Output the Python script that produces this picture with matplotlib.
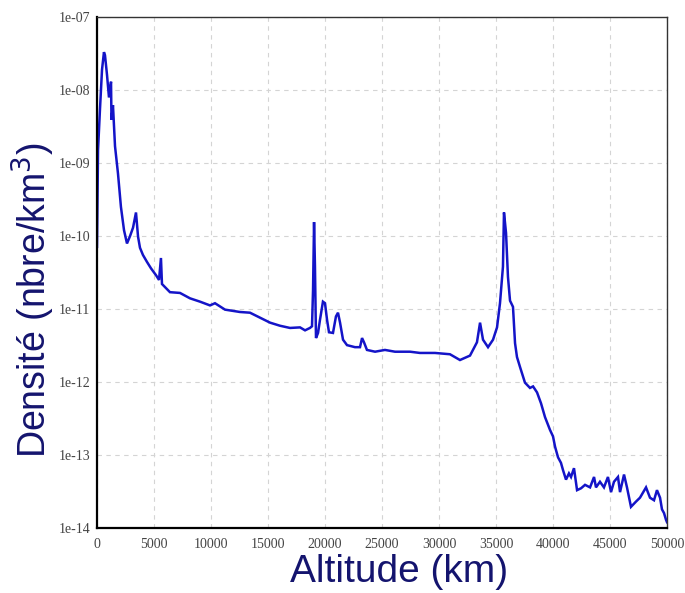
import matplotlib
matplotlib.use("Agg")
import matplotlib.pyplot as plt
from matplotlib.ticker import FixedLocator, FixedFormatter

# Data (altitude in km, density in nbre/km^3)
altitude = [0, 90, 260, 440, 610, 700, 880, 1050, 1230, 1270, 1400, 1490, 1580,
            1840, 2100, 2370, 2630, 2900, 3160, 3420, 3600, 3770, 4030, 4390,
            4740, 5180, 5440, 5610, 5700, 6400, 7280, 8160, 9040, 9910, 10350,
            11230, 12540, 13420, 14300, 15180, 16050, 16930, 17810, 18250, 18680,
            18860, 18950, 19040, 19120, 19210, 19390, 19560, 19820, 20000, 20180,
            20350, 20700, 20960, 21140, 21320, 21580, 21930, 22630, 23070, 23250,
            23420, 23680, 24390, 25260, 26140, 27460, 28330, 29650, 30960, 31840,
            32720, 33330, 33600, 33860, 34300, 34740, 35090, 35350, 35610, 35700,
            35880, 36050, 36230, 36490, 36670, 36840, 37110, 37540, 37980, 38250,
            38600, 38950, 39300, 39740, 40000, 40180, 40440, 40700, 40880, 41140,
            41400, 41580, 41840, 42110, 42460, 42810, 43250, 43600, 43770, 44120,
            44470, 44820, 45090, 45350, 45700, 45880, 46230, 46490, 46840, 47280,
            47630, 48160, 48510, 48860, 49120, 49390, 49560, 49740, 49910, 50000]
density = [7.1e-11, 1.5e-9, 5.4e-9, 1.9e-8, 3.3e-8, 3.0e-8, 1.6e-8, 7.9e-9, 1.3e-8,
           3.9e-9, 6.2e-9, 3.3e-9, 1.7e-9, 7.2e-10, 2.5e-10, 1.2e-10, 7.9e-11,
           1.0e-10, 1.3e-10, 2.1e-10, 9.8e-11, 6.9e-11, 5.5e-11, 4.4e-11, 3.6e-11,
           2.9e-11, 2.5e-11, 5.0e-11, 2.2e-11, 1.7e-11, 1.66e-11, 1.4e-11, 1.26e-11,
           1.12e-11, 1.2e-11, 9.8e-12, 9.1e-12, 8.9e-12, 7.6e-12, 6.5e-12, 5.9e-12,
           5.5e-12, 5.6e-12, 5.1e-12, 5.5e-12, 5.8e-12, 1.8e-11, 1.55e-10, 3.8e-11,
           4.0e-12, 4.7e-12, 7.1e-12, 1.26e-11, 1.2e-11, 7.1e-12, 4.8e-12, 4.7e-12,
           7.9e-12, 8.9e-12, 6.5e-12, 3.8e-12, 3.2e-12, 3.0e-12, 3.0e-12, 4.0e-12,
           3.5e-12, 2.75e-12, 2.6e-12, 2.75e-12, 2.6e-12, 2.6e-12, 2.5e-12, 2.5e-12,
           2.4e-12, 2.0e-12, 2.3e-12, 3.5e-12, 6.5e-12, 3.8e-12, 3.0e-12, 3.8e-12,
           5.6e-12, 1.2e-11, 3.8e-11, 2.1e-10, 1.1e-10, 2.75e-11, 1.3e-11, 1.07e-11,
           3.4e-12, 2.2e-12, 1.6e-12, 9.8e-13, 8.3e-13, 8.7e-13, 7.2e-13, 5.1e-13,
           3.3e-13, 2.2e-13, 1.8e-13, 1.3e-13, 9.3e-14, 7.8e-14, 6.2e-14, 4.6e-14,
           5.6e-14, 5.0e-14, 6.6e-14, 3.3e-14, 3.5e-14, 3.9e-14, 3.6e-14, 5.0e-14,
           3.6e-14, 4.3e-14, 3.6e-14, 5.0e-14, 3.1e-14, 4.3e-14, 5.0e-14, 3.1e-14,
           5.4e-14, 3.6e-14, 1.95e-14, 2.3e-14, 2.6e-14, 3.6e-14, 2.6e-14, 2.4e-14,
           3.3e-14, 2.6e-14, 1.8e-14, 1.6e-14, 1.3e-14, 1.2e-14]

x_ticks = [0, 5000, 10000, 15000, 20000, 25000, 30000, 35000, 40000, 45000, 50000]
x_tick_labels = ["0", "5000", "10000", "15000", "20000", "25000", "30000",
                 "35000", "40000", "45000", "50000"]
y_ticks = [1e-14, 1e-13, 1e-12, 1e-11, 1e-10, 1e-9, 1e-8, 1e-7]
y_tick_labels = ["1e-14", "1e-13", "1e-12", "1e-11", "1e-10", "1e-09", "1e-08", "1e-07"]

x_label = "Altitude (km)"
y_label = "Densité (nbre/km$^3$)"

fig = plt.figure(figsize=(6.85, 5.93), dpi=100)
ax = fig.add_axes([97/685, 1-528/593, 570/685, 511/593])

ax.plot(altitude, density, color="#1414c8", lw=1.8, solid_joinstyle="miter")
ax.set_yscale("log")
ax.set_xlim(0, 50000)
ax.set_ylim(1e-14, 1e-7)

ax.xaxis.set_major_locator(FixedLocator(x_ticks))
ax.xaxis.set_major_formatter(FixedFormatter(x_tick_labels))
ax.yaxis.set_major_locator(FixedLocator(y_ticks))
ax.yaxis.set_major_formatter(FixedFormatter(y_tick_labels))
ax.yaxis.set_minor_locator(FixedLocator([]))
ax.tick_params(axis="both", which="both", length=0)
ax.tick_params(axis="x", pad=7)
ax.tick_params(axis="y", pad=5)
for lab in ax.get_xticklabels() + ax.get_yticklabels():
    lab.set_fontfamily("Liberation Serif")
    lab.set_fontsize(10)
    lab.set_color("#444444")

ax.grid(True, which="major", color="#d4d4d4", lw=0.8, linestyle=(0, (4, 4)))
ax.set_axisbelow(True)

for side in ("left", "bottom"):
    ax.spines[side].set_linewidth(1.6)
    ax.spines[side].set_color("black")
for side in ("top", "right"):
    ax.spines[side].set_linewidth(1.0)
    ax.spines[side].set_color("#333333")

label_color = "#14146e"
fig.text(399/685, 1-572/593, x_label, ha="center", va="center",
         fontsize=28, color=label_color, family="Liberation Sans")
fig.text(33/685, 1-300/593, y_label, ha="center", va="center", rotation=90,
         fontsize=27, color=label_color, family="Liberation Sans")

fig.savefig("out.png", dpi=100, facecolor="white")
